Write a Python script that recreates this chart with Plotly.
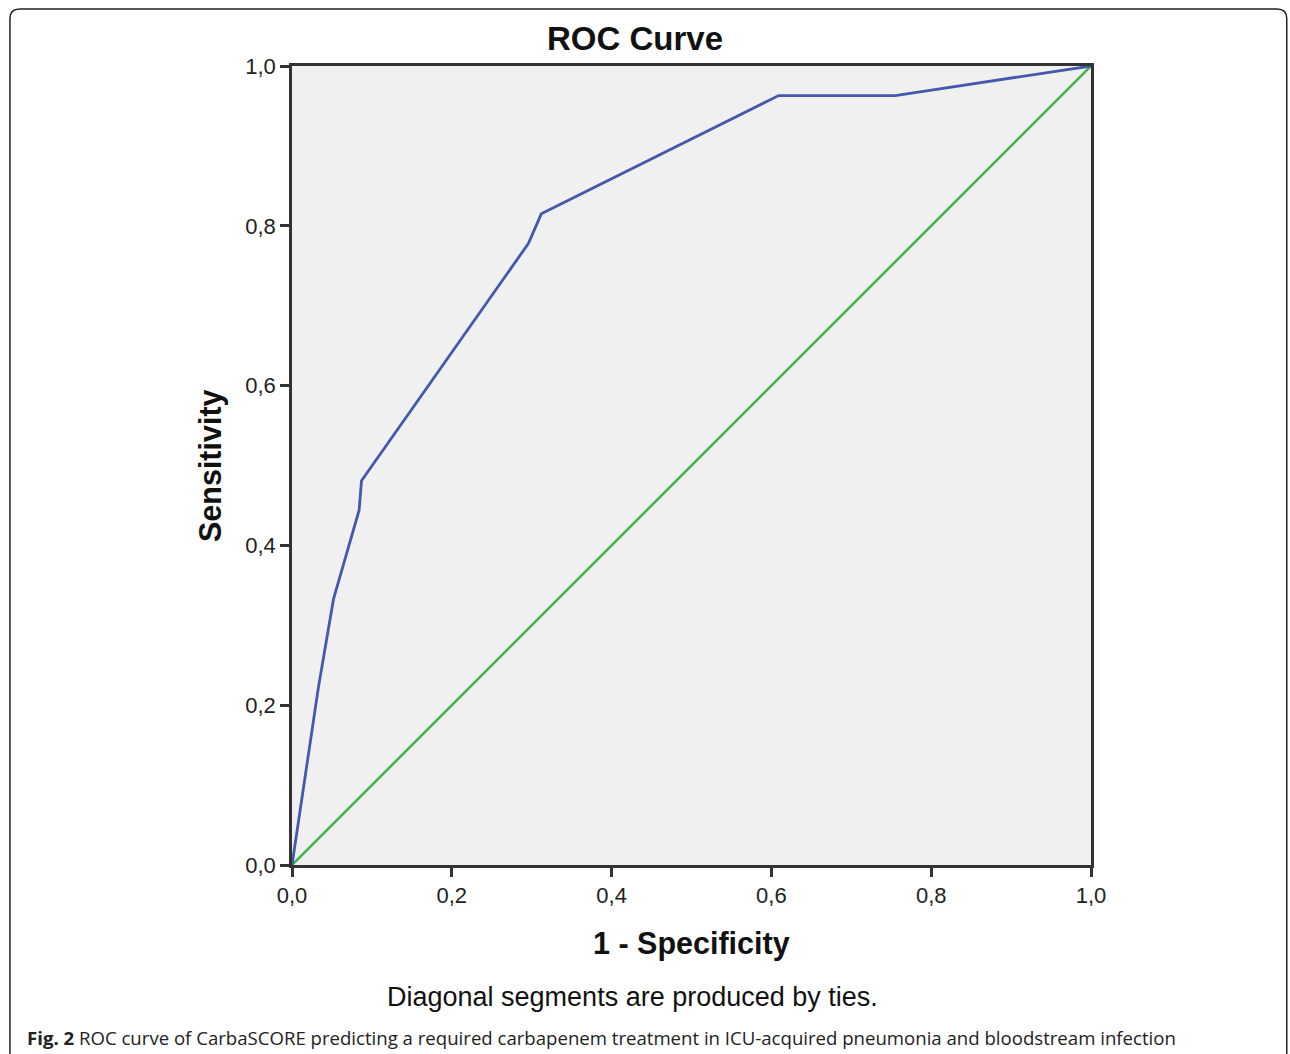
import plotly.graph_objects as go

# ROC data (1 - specificity, sensitivity)
fpr = [0.0, 0.033, 0.052, 0.084, 0.087, 0.296, 0.312, 0.609, 0.755, 1.0]
tpr = [0.0, 0.222, 0.333, 0.444, 0.481, 0.778, 0.815, 0.963, 0.963, 1.0]
ref_x = [0.0, 1.0]
ref_y = [0.0, 1.0]
tick_vals = [0.0, 0.2, 0.4, 0.6, 0.8, 1.0]

fig = go.Figure()
fig.add_trace(go.Scatter(x=ref_x, y=ref_y, mode="lines",
                         line=dict(color="#3CB44A", width=2.6), showlegend=False))
fig.add_trace(go.Scatter(x=fpr, y=tpr, mode="lines",
                         line=dict(color="#4359AB", width=2.8), showlegend=False))

axis_common = dict(range=[0, 1], tickvals=tick_vals, tickformat=".1f",
                   showgrid=False, zeroline=False, showline=True, mirror=True,
                   linecolor="#333333", linewidth=2.5, ticks="outside",
                   ticklen=9, tickwidth=2.5, tickcolor="#333333",
                   tickfont=dict(family="Liberation Sans, Arial", size=22, color="#222222"))
fig.update_xaxes(**axis_common)
fig.update_yaxes(**axis_common)

fig.update_layout(
    width=1290, height=1054,
    margin=dict(l=292, r=199, t=66, b=189),
    plot_bgcolor="#F0F0F0", paper_bgcolor="white",
    separators=",.",
)

# outer rounded frame
x0, y0 = -0.353, 1.0713
x1, y1 = 1.245, -0.26
fig.add_shape(type="path", xref="paper", yref="paper",
              path=f"M {x0},{y1} L {x0},{y0-0.012} Q {x0},{y0} {x0+0.012},{y0} L {x1-0.012},{y0} Q {x1},{y0} {x1},{y0-0.012} L {x1},{y1}",
              line=dict(color="#222222", width=1.5), layer="below")

fig.add_annotation(text="<b>ROC Curve</b>", xref="paper", yref="paper",
                   x=0.429, y=1.035, showarrow=False, xanchor="center", yanchor="middle",
                   font=dict(family="Liberation Sans, Arial", size=33, color="#111111"))
fig.add_annotation(text="<b>1 - Specificity</b>", xref="paper", yref="paper",
                   x=0.5, y=-0.0977, showarrow=False, xanchor="center", yanchor="middle",
                   font=dict(family="Liberation Sans, Arial", size=30.5, color="#111111"))
fig.add_annotation(text="<b>Sensitivity</b>", xref="paper", yref="paper",
                   x=-0.102, y=0.5, showarrow=False, xanchor="center", yanchor="middle",
                   textangle=-90,
                   font=dict(family="Liberation Sans, Arial", size=30.5, color="#111111"))
fig.add_annotation(text="Diagonal segments are produced by ties.", xref="paper", yref="paper",
                   x=0.426, y=-0.1653, showarrow=False, xanchor="center", yanchor="middle",
                   font=dict(family="Liberation Sans Narrow, Liberation Sans, Arial", size=27, color="#111111"))
fig.add_annotation(text="<b>Fig. 2</b> ROC curve of CarbaSCORE predicting a required carbapenem treatment in ICU-acquired pneumonia and bloodstream infection",
                   xref="paper", yref="paper",
                   x=-0.334, y=-0.2165, showarrow=False, xanchor="left", yanchor="middle",
                   font=dict(family="Open Sans", size=18.6, color="#222222"))

fig.write_html("out.html", config={"displayModeBar": False},
               post_script="document.body.style.margin='0';document.body.style.overflow='hidden';")
